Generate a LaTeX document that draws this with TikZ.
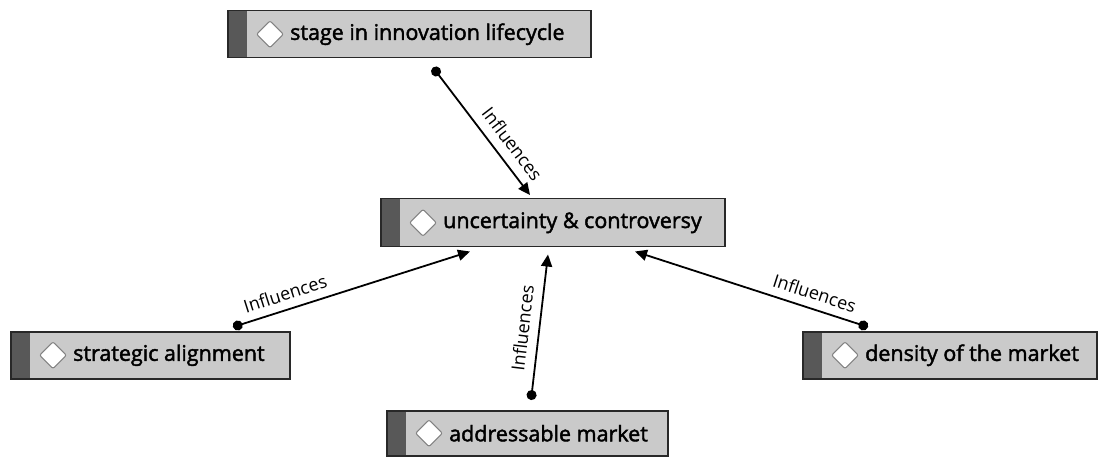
\documentclass[tikz,border=0pt]{standalone}
\usepackage{fontspec}
\setmainfont{Open Sans}
\newfontfamily\titlefont[FakeBold=2]{Open Sans}
\usetikzlibrary{arrows.meta,calc}
\definecolor{boxfill}{RGB}{202,202,202}
\definecolor{boxedge}{RGB}{40,40,40}
\definecolor{bardark}{RGB}{88,88,88}
\definecolor{diamedge}{RGB}{130,130,130}
\begin{document}
\begin{tikzpicture}[x=1pt,y=-1pt,
  conceptbox/.style={draw=boxedge,line width=1.5pt,fill=boxfill,inner sep=0pt,
    anchor=north west,
    path picture={\fill[bardark] (path picture bounding box.north west)
      rectangle ([xshift=19pt]path picture bounding box.south west);}},
  conceptlabel/.style={anchor=west,inner sep=0pt,font=\titlefont\fontsize{21.5}{25}\selectfont,text=black},
  marker/.style={draw=diamedge,line width=1pt,fill=white,rounded corners=2pt,
    minimum size=19pt,inner sep=0pt,rotate=45},
  influence/.style={line width=1.8pt,draw=black,
    {Circle[length=10pt]}-{Triangle[length=12pt,width=11pt]}},
  rel/.style={font=\fontsize{18}{21}\selectfont,inner sep=0pt,sloped}]
\useasboundingbox (0,0) rectangle (1098,457);

% concept boxes
\node[conceptbox,minimum width=363pt,minimum height=47pt] (stage) at (227,10) {};
\node[conceptbox,minimum width=344pt,minimum height=48pt] (unc) at (380,198) {};
\node[conceptbox,minimum width=279pt,minimum height=47pt] (strat) at (10,331) {};
\node[conceptbox,minimum width=281pt,minimum height=45pt] (addr) at (386,410) {};
\node[conceptbox,minimum width=294pt,minimum height=47pt] (dens) at (802,331) {};

% diamond markers and titles
\foreach \b/\t in {stage/stage in innovation lifecycle,
                   unc/uncertainty \& controversy,
                   strat/strategic alignment,
                   addr/addressable market,
                   dens/density of the market}{
  \node[marker] (\b-mark) at ($(\b.west)+(43,0)$) {};
  \node[conceptlabel] (\b-title) at ($(\b.west)+(63,0)$) {\t};
}

% connector end points
\coordinate (s-from) at ($(stage.south west)+(206,9)$);
\coordinate (s-to)   at ($(unc.north west)+(150,-3)$);
\coordinate (a-from) at ($(strat.north west)+(223,-4)$);
\coordinate (a-to)   at ($(unc.south west)+(90,4)$);
\coordinate (m-from) at ($(addr.north west)+(145,-10)$);
\coordinate (m-to)   at ($(unc.south west)+(168,7)$);
\coordinate (d-from) at ($(dens.north west)+(66,-4)$);
\coordinate (d-to)   at ($(unc.south west)+(255,4)$);

% influence links
\draw[influence] (s-from) -- node[rel,pos=0.68,above=9pt] (s-lab) {Influences} (s-to);
\draw[influence] (a-from) -- node[rel,pos=0.24,above=8pt] (a-lab) {Influences} (a-to);
\draw[influence] (m-from) -- node[rel,pos=0.48,above=9pt] (m-lab) {Influences} (m-to);
\draw[influence] (d-from) -- node[rel,pos=0.25,above=8pt] (d-lab) {Influences} (d-to);
\end{tikzpicture}
\end{document}
